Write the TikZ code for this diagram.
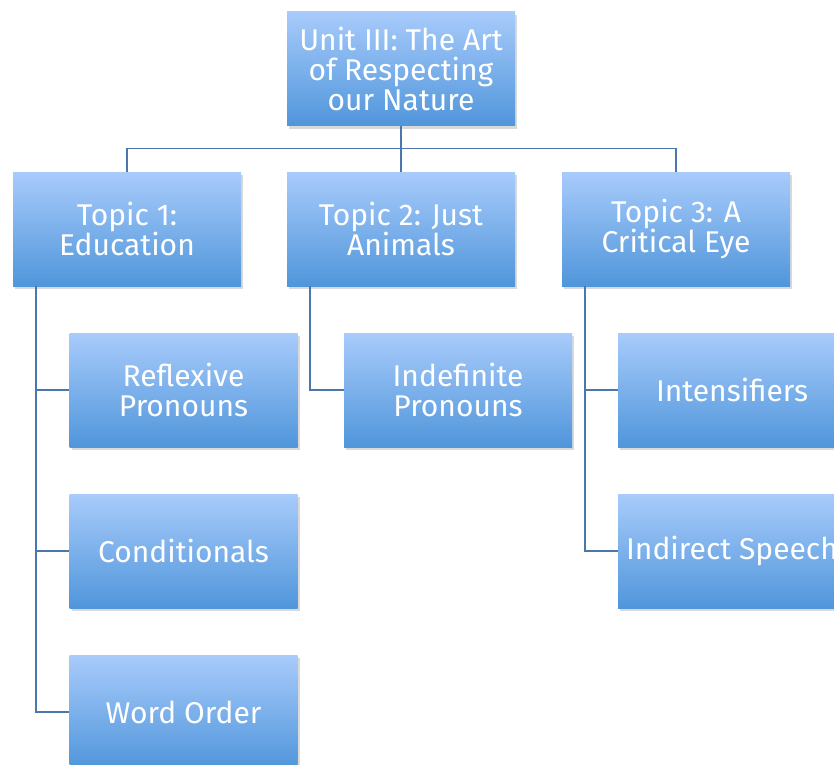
\documentclass[tikz,border=0pt]{standalone}
\usepackage{fontspec}
\setmainfont{Fira Sans}
\usetikzlibrary{shadows}
\definecolor{topc}{HTML}{A8CBFB}
\definecolor{botc}{HTML}{5096DB}
\definecolor{linec}{HTML}{4A78AD}
\tikzset{
  box/.style={rectangle, minimum width=228pt, minimum height=114pt, inner sep=0pt,
    top color=topc, bottom color=botc, draw=none, text=white, align=center,
    font=\fontsize{30}{30}\selectfont,
    drop shadow={shadow xshift=2pt, shadow yshift=-3pt, opacity=0.25, fill=black!60}},
  conn/.style={draw=linec, line width=1.6pt}
}
\begin{document}
\begin{tikzpicture}[x=1pt,y=-1pt]
\useasboundingbox (0,0) rectangle (834,764);
\node[box] (root) at (401,68.5) {Unit III: The Art\\of Respecting\\our Nature};
\node[box] (t1) at (127,229) {Topic 1:\\Education};
\node[box] (t2) at (401,229) {Topic 2: Just\\Animals};
\node[box] (t3) at (676,229) {Topic 3: A\\Critical Eye};
\node[box] (c1) at (183.5,390) {Reflexive\\Pronouns};
\node[box] (c2) at (183.5,551) {Conditionals};
\node[box] (c3) at (183.5,712) {Word Order};
\node[box] (d1) at (458,390) {Indefinite\\Pronouns};
\node[box] (e1) at (732,390) {Intensifiers};
\node[box] (e2) at (732,551) {Indirect Speech};
\coordinate (j) at (401,148.5);
\coordinate (a1) at (36,286);
\coordinate (a2) at (310,286);
\coordinate (a3) at (585,286);
\draw[conn] (root.south) -- (j);
\draw[conn] (t1.north) |- (j) -| (t3.north);
\draw[conn] (j) -- (t2.north);
\draw[conn] (a1) |- (c1.west);
\draw[conn] (a1) |- (c2.west);
\draw[conn] (a1) |- (c3.west);
\draw[conn] (a2) |- (d1.west);
\draw[conn] (a3) |- (e1.west);
\draw[conn] (a3) |- (e2.west);
\end{tikzpicture}
\end{document}
